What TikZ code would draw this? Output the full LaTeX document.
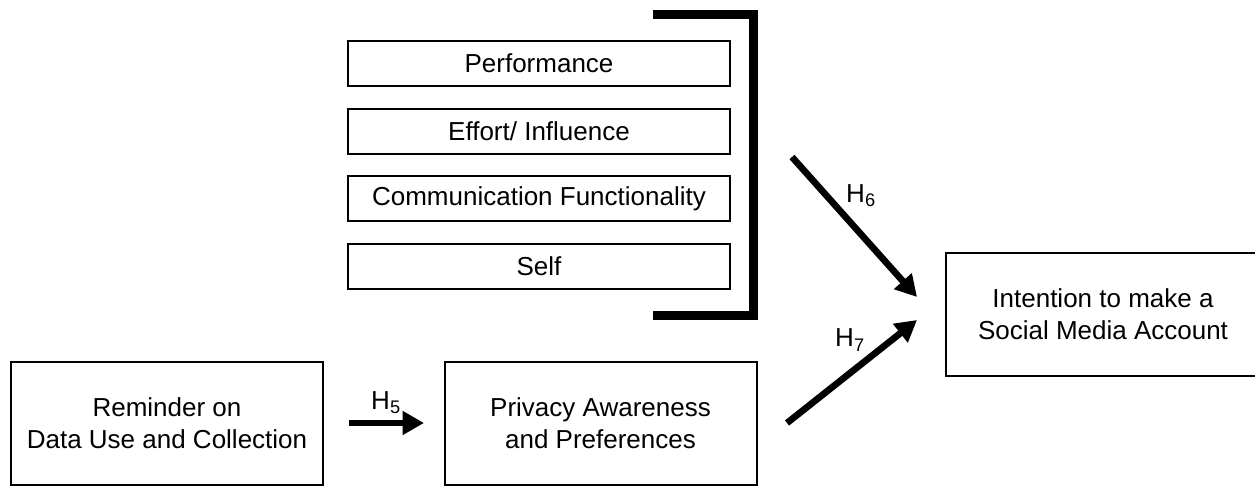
\documentclass[tikz,border=0pt]{standalone}
\usepackage{fontspec}
\setmainfont{Liberation Sans}
\usetikzlibrary{arrows.meta}

\begin{document}
\begin{tikzpicture}[x=0.75pt, y=-0.75pt]
  \useasboundingbox (0,0) rectangle (1255,485);

  \edef\px{0.75pt}
  \tikzstyle{box}=[draw, line width=1.5pt, align=center, inner sep=0pt, font=\fontsize{19.5}{24}\selectfont]
  \tikzstyle{factor}=[box, minimum width=382*\px, minimum height=45*\px]
  \tikzstyle{outcome}=[box, minimum width=312*\px, minimum height=123*\px]
  \tikzstyle{hyp}=[line width=5pt, -{Triangle[length=16pt, width=17pt]}]
  \tikzstyle{hlabel}=[inner sep=0pt, font=\fontsize{19.5}{24}\selectfont]

  % factor boxes
  \foreach \txt [count=\i] in {Performance, {Effort/ Influence}, Communication Functionality, Self}
    {
      \pgfmathsetmacro{\y}{63.5 + (\i - 1) * 67.7}
      \node[factor] (f\i) at (539,\y) {\txt};
    }

  % bracket
  \draw[line width=6.75pt] (653,14.5) -- (753,14.5) -- (753,315.5) -- (653,315.5);

  % lower boxes
  \node[outcome] (remind) at (167,423.5) {Reminder on\\Data Use and Collection};
  \node[outcome] (privacy) at (600.5,423.5) {Privacy Awareness\\and Preferences};
  \node[outcome, minimum width=314*\px] (intent) at (1103,314.5) {Intention to make a\\Social Media Account};

  % hypotheses
  \coordinate (h5s) at (349,423);
  \coordinate (h5e) at (424,423);
  \coordinate (h6s) at (792,157);
  \coordinate (h6e) at (917,297);
  \coordinate (h7s) at (787,423);
  \coordinate (h7e) at (917,320);
  \draw[hyp] (h5s) -- (h5e);
  \draw[hyp] (h6s) -- (h6e);
  \draw[hyp] (h7s) -- (h7e);

  % labels
  \node[hlabel] (h5) at (386,403) {H\textsubscript{5}};
  \node[hlabel] (h6) at (861,196) {H\textsubscript{6}};
  \node[hlabel] (h7) at (850,340) {H\textsubscript{7}};
\end{tikzpicture}
\end{document}
